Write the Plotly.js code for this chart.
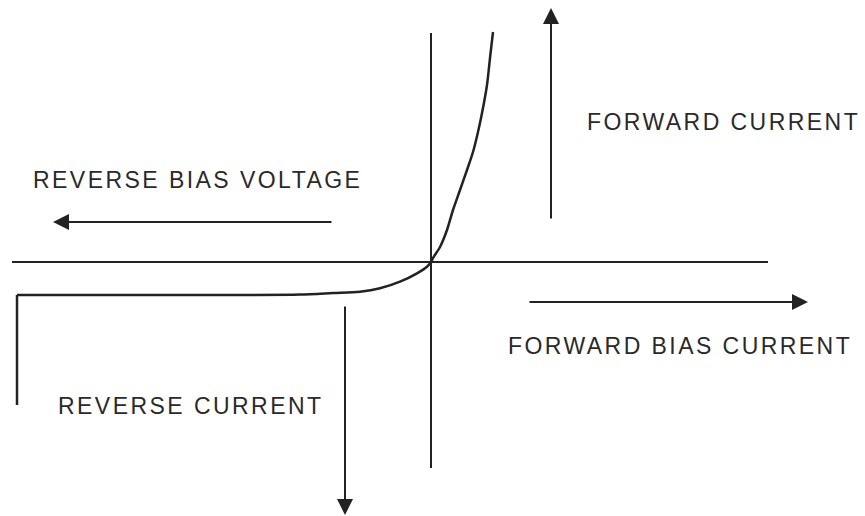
<!DOCTYPE html>
<html>
<head>
<meta charset="utf-8">
<script src="https://cdn.plot.ly/plotly-3.0.1.min.js"></script>
<style>
html,body{margin:0;padding:0;background:#fff;}
#chart{width:865px;height:516px;}
.annotation-text{letter-spacing:2.45px;}
</style>
</head>
<body>
<div id="chart"></div>
<script>
// Diode I-V characteristic (arbitrary units; origin at the axes crossing)
// breakdown (vertical) part
const breakdownVoltage = [-41.4, -41.4];
const breakdownCurrent = [-14.3, -3.3];
// reverse leakage + forward conduction part
const curveVoltage = [-41.4, -23.1, -13.1, -9.8, -7.1, -5.1, -3.1, -1.4, -0.4, 0.0, 0.2, 0.9, 1.6, 2.2, 2.9, 3.6, 4.2, 4.7, 5.2, 5.6, 5.9, 6.2];
const curveCurrent = [-3.3, -3.3, -3.25, -3.1, -2.97, -2.63, -1.97, -1.13, -0.47, 0.0, 0.4, 1.5, 3.2, 5.2, 7.2, 9.2, 11.0, 13.0, 15.4, 17.7, 20.4, 23.0];

const axisXLine = {x: [-41.9, 33.7], y: [0, 0]};
const axisYLine = {x: [0, 0], y: [22.9, -20.6]};

// arrows: [tailX, tailY, headX, headY]
const arrowForwardCurrent = [12.0, 4.2, 12.0, 25.4];
const arrowReverseVoltage = [-9.8, 4.0, -37.8, 4.0];
const arrowReverseCurrent = [-8.6, -4.3, -8.6, -25.3];
const arrowForwardBias = [9.7, -4.0, 37.7, -4.0];

const labelTexts = ["FORWARD CURRENT", "REVERSE BIAS VOLTAGE", "FORWARD BIAS CURRENT", "REVERSE CURRENT"];
const labelX = [15.4, -40.0, 7.5, -37.5];
const labelY = [14.0, 8.2, -8.4, -14.4];

const lineColor = '#222222';
const textColor = '#2a2a2a';

const traces = [
  {x: axisXLine.x, y: axisXLine.y, mode: 'lines', line: {color: lineColor, width: 2}, hoverinfo: 'skip'},
  {x: axisYLine.x, y: axisYLine.y, mode: 'lines', line: {color: lineColor, width: 2}, hoverinfo: 'skip'},
  {x: breakdownVoltage, y: breakdownCurrent, mode: 'lines', line: {color: lineColor, width: 2.5}, hoverinfo: 'skip'},
  {x: curveVoltage, y: curveCurrent, mode: 'lines', line: {color: lineColor, width: 2.5, shape: 'spline', smoothing: 0.8}, hoverinfo: 'skip'}
];

function arrow(a) {
  return {x: a[2], y: a[3], ax: a[0], ay: a[1], xref: 'x', yref: 'y', axref: 'x', ayref: 'y',
    showarrow: true, arrowhead: 2, arrowsize: 1.6, arrowwidth: 2, arrowcolor: lineColor, text: ''};
}

const annotations = [
  arrow(arrowForwardCurrent), arrow(arrowReverseVoltage), arrow(arrowReverseCurrent), arrow(arrowForwardBias)
];
labelTexts.forEach((t, i) => {
  annotations.push({x: labelX[i], y: labelY[i], xref: 'x', yref: 'y', text: t, showarrow: false,
    xanchor: 'left', yanchor: 'middle', font: {family: 'Liberation Sans, Arial, sans-serif', size: 23, color: textColor}});
});

const layout = {
  width: 865, height: 516,
  margin: {l: 0, r: 0, t: 0, b: 0},
  paper_bgcolor: '#ffffff', plot_bgcolor: '#ffffff',
  showlegend: false,
  xaxis: {range: [-43.1, 43.4], visible: false, fixedrange: true},
  yaxis: {range: [-25.4, 26.2], visible: false, fixedrange: true},
  annotations: annotations
};

Plotly.newPlot('chart', traces, layout, {displayModeBar: false, staticPlot: true});
</script>
</body>
</html>
